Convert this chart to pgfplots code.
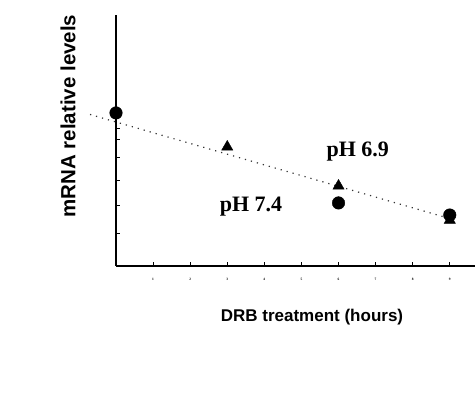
\documentclass[border=0pt]{standalone}
\usepackage{pgfplots}
\pgfplotsset{compat=1.18}
\usepackage{fontspec}
\setmainfont{Liberation Serif}
\newfontfamily\sansbold{Liberation Sans}
\begin{document}
\begin{tikzpicture}[x=1pt,y=1pt]
\path[use as bounding box] (0,0) rectangle (475,403);
\begin{axis}[
  at={(116pt,137pt)}, anchor=south west,
  scale only axis, width=359pt, height=251pt,
  xmin=0, xmax=9.68, ymin=0, ymax=1.64,
  axis x line=bottom, axis y line=left,
  axis line style={-, line width=2pt, black},
  xtick={1,2,3,4,5,6,7,8,9},
  xticklabels={1,2,3,4,5,6,7,8,9},
  xticklabel style={font=\fontsize{3.5}{4}\selectfont\bfseries, yshift=-9pt},
  ytick={0.216,0.399,0.562,0.712,0.824,0.902},
  yticklabels={},
  tick align=inside, major tick length=4pt,
  tick style={black, line width=0.8pt},
  clip=false,
]
% dotted trend line
\addplot[black!80, line width=1.2pt, dash pattern=on 1.2pt off 5pt]
  coordinates {(-0.7,0.99) (9,0.31)};
% pH 6.9 (triangles)
\addplot[only marks, mark=triangle*, mark size=6.5pt, black]
  coordinates {(3,0.778) (6,0.523) (9,0.30)};
% pH 7.4 (circles)
\addplot[only marks, mark=*, mark size=6.3pt, black]
  coordinates {(0,1.0) (6,0.412) (9,0.333)};
\node[font=\fontsize{22}{24}\selectfont\bfseries] at (axis cs:6.52,0.745) {pH 6.9};
\node[font=\fontsize{22}{24}\selectfont\bfseries] at (axis cs:3.64,0.386) {pH 7.4};
\end{axis}
\node[rotate=90, font=\sansbold\bfseries\fontsize{20.5}{22}\selectfont] at (68,287) {mRNA relative levels};
\node[font=\sansbold\bfseries\fontsize{17}{19}\selectfont] at (312,86) {DRB treatment (hours)};
\end{tikzpicture}
\end{document}
